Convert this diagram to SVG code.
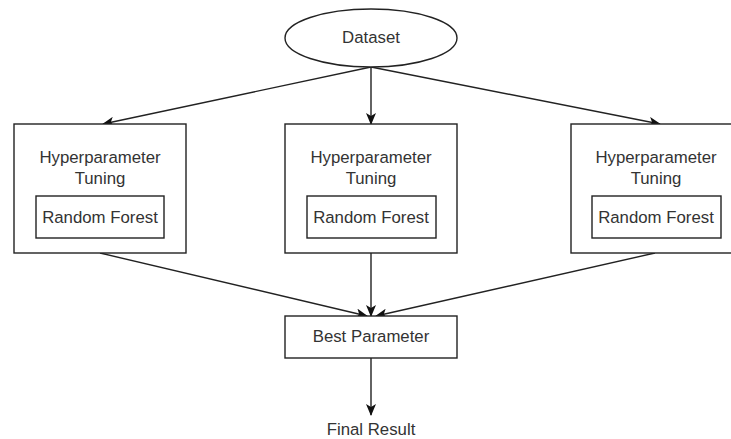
<svg xmlns="http://www.w3.org/2000/svg" width="731" height="439" viewBox="0 0 731 439">
<style>
.s{fill:#fff;stroke:#222;stroke-width:1.4}
.t{font-family:"Liberation Sans",Arial,sans-serif;font-size:16.8px;fill:#333;text-anchor:middle}
.e{fill:none;stroke:#222;stroke-width:1.4}
</style>
<defs>
<marker id="a" viewBox="0 0 12 10" refX="11" refY="5" markerWidth="12" markerHeight="10" markerUnits="userSpaceOnUse" orient="auto">
<path d="M0,0 L12,5 L0,10 L3,5 Z" fill="#111"/>
</marker>
</defs>
<rect width="731" height="439" fill="#fff"/>
<g id="connectors">
<line class="e" x1="371" y1="67" x2="103" y2="124" marker-end="url(#a)"/>
<line class="e" x1="371" y1="67" x2="371" y2="124" marker-end="url(#a)"/>
<line class="e" x1="371" y1="67" x2="660" y2="124" marker-end="url(#a)"/>
<line class="e" x1="100" y1="253" x2="367" y2="316" marker-end="url(#a)"/>
<line class="e" x1="371" y1="253" x2="371" y2="316" marker-end="url(#a)"/>
<line class="e" x1="655" y1="253" x2="376" y2="316" marker-end="url(#a)"/>
<line class="e" x1="371" y1="358" x2="371" y2="415" marker-end="url(#a)"/>
</g>
<g id="dataset">
<ellipse class="s" cx="371" cy="38" rx="86" ry="29"/>
<text class="t" x="371" y="43">Dataset</text>
</g>
<g id="tuning1">
<rect class="s" x="14" y="124" width="172" height="129"/>
<text class="t" x="100" y="163">Hyperparameter</text>
<text class="t" x="100" y="184">Tuning</text>
<rect class="s" x="36" y="196" width="128" height="42"/>
<text class="t" x="100" y="223">Random Forest</text>
</g>
<g id="tuning2">
<rect class="s" x="285" y="124" width="172" height="129"/>
<text class="t" x="371" y="163">Hyperparameter</text>
<text class="t" x="371" y="184">Tuning</text>
<rect class="s" x="307" y="196" width="129" height="42"/>
<text class="t" x="371" y="223">Random Forest</text>
</g>
<g id="tuning3">
<rect class="s" x="571" y="124" width="172" height="129"/>
<text class="t" x="656" y="163">Hyperparameter</text>
<text class="t" x="656" y="184">Tuning</text>
<rect class="s" x="592" y="196" width="129" height="42"/>
<text class="t" x="656" y="223">Random Forest</text>
</g>
<g id="best">
<rect class="s" x="285" y="316" width="172" height="42"/>
<text class="t" x="371" y="342">Best Parameter</text>
</g>
<g id="final">
<text class="t" x="371" y="435">Final Result</text>
</g>
</svg>
